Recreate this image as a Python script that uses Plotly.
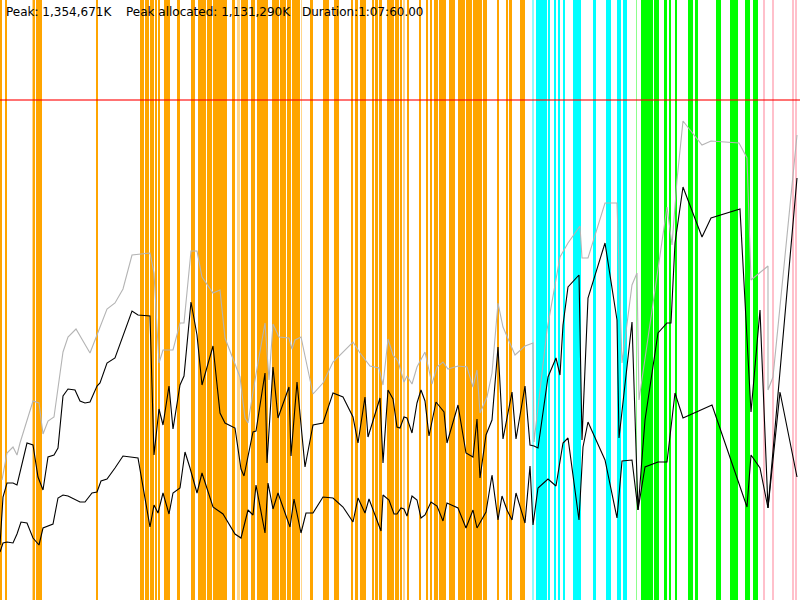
import plotly.graph_objects as go

# ---- data (time index 0..800, memory level; axis reversed) ----
gray_x = [2,7,13,17,20,33,39,43,48,54,63,68,76,90,107,115,123,132,150,154,159,163,173,180,184,191,197,202,213,220,225,240,245,248,255,265,269,273,279,289,292,295,301,313,323,333,353,360,370,379,383,388,393,398,404,407,412,417,425,432,437,443,448,458,467,473,477,480,487,492,498,503,515,525,533,534,547,560,568,580,582,588,605,617,622,632,637,639,667,672,677,683,702,711,739,747,751,768,768,773,797]
gray_y = [480,453,447,455,443,401,403,434,421,417,352,337,329,353,309,303,289,255,253,273,363,350,350,323,323,251,251,277,293,290,338,377,418,423,380,323,380,324,337,338,349,340,337,394,383,362,342,353,366,368,385,339,355,361,382,376,384,367,352,384,367,362,369,366,367,387,370,413,397,373,303,327,355,346,343,442,330,257,243,226,258,258,203,203,363,285,273,400,207,245,180,121,145,141,143,158,280,266,390,377,135]

used_x = [0,3,7,13,17,21,27,33,38,43,48,54,58,63,68,75,80,85,90,97,100,107,115,132,138,150,154,159,163,169,173,180,184,191,197,202,213,220,225,235,241,244,253,256,265,267,273,278,289,291,297,305,313,323,333,343,353,358,365,368,380,383,388,393,397,400,404,407,412,417,421,425,429,436,444,447,458,466,473,477,480,486,492,498,503,512,516,525,530,534,538,548,556,560,563,568,579,582,588,605,617,619,632,638,645,658,667,671,675,683,702,711,740,751,760,768,797]
used_y = [545,497,483,483,485,468,443,445,477,490,457,455,448,396,389,390,401,403,402,386,383,363,358,311,315,316,455,409,425,386,429,385,376,302,335,385,346,413,423,428,469,476,432,431,373,463,367,418,387,456,382,467,425,423,393,397,417,443,397,437,398,463,390,399,427,428,417,418,433,403,390,401,436,402,412,443,405,453,457,419,478,435,420,347,439,392,439,386,445,446,448,377,358,375,325,287,275,440,298,243,320,438,322,510,420,333,323,323,243,187,237,218,209,412,310,508,178]

low_x = [0,3,7,13,17,21,27,33,39,43,53,58,63,68,80,85,92,97,101,107,115,123,138,150,154,158,163,169,173,180,185,190,197,202,213,223,235,241,248,253,256,265,268,273,278,290,294,301,306,313,323,333,343,353,358,365,369,381,383,389,394,397,401,404,407,412,417,421,425,431,437,443,447,458,466,473,477,486,492,498,502,507,512,516,525,530,533,538,548,556,563,568,579,583,588,605,617,622,632,638,645,658,667,675,683,712,747,751,760,768,780,797]
low_y = [552,543,542,543,534,522,523,538,545,528,524,498,495,496,502,502,493,492,481,479,468,456,458,527,505,513,493,514,493,488,452,468,493,473,507,514,534,538,510,515,485,533,483,509,493,527,499,533,513,513,497,498,507,522,498,513,499,531,495,500,514,514,508,509,516,496,500,518,515,502,506,521,503,508,528,510,528,512,475,520,496,510,520,493,523,466,525,488,479,486,443,438,520,447,422,460,518,461,460,510,467,462,462,393,418,405,507,455,468,508,392,477]

peak_level = 100

orange_bands = [(0,1.7),(5,6.7),(33,35),(36,42),(96,97.5),(140,144),(145,149),(150,154),(155,157),(158,159.5),(164,170),(177,180),(191,195),(198,206),(207,212),(213,227),(232,235),(241,248),(251,255),(257,268),(272,279),(279.7,286),(286.7,291),(292,300),(310,313),(323,329),(334,339),(351,353),(355,358),(360,366),(372,374),(375,378),(379,382),(387,394),(395,399),(400,402),(407,409),(419,421),(426,428),(430,432),(434,438),(439,446),(449,455),(458,465),(466,472),(473,482),(483,487),(497,499),(506,508),(509,512),(520,525)]
orange_light = [(32,33),(237,240),(301,302),(403,405)]
cyan_bands = [(536,547),(548,550),(554,556),(558,560),(563,565),(573,580.5),(593,596),(606,611),(617,621),(623,627)]
cyan_light = [(532,533.5)]
green_bands = [(641,643),(643,653),(654,657),(657,659),(664,667),(669,671),(675,677),(688,693),(695,698),(716,721),(730,733),(733,738),(745,750),(753,758)]
green_light = [(636,637)]
pink_bands = [(763,765),(772,774),(792,794),(795,797)]

labels = ["Peak: 1,354,671K", "Peak allocated: 1,131,290K", "Duration:1:07:60.00"]
label_x = [4, 124, 300]

fig = go.Figure()

def add_bands(bands, color, opacity):
    if not bands:
        return
    fig.add_trace(go.Bar(
        x=[(a + b) / 2 for a, b in bands],
        y=[600] * len(bands),
        width=[b - a for a, b in bands],
        base=0,
        marker=dict(color=color, line=dict(width=0)),
        opacity=opacity,
        hoverinfo="skip",
    ))

add_bands(orange_bands, "#FFA500", 1.0)
add_bands(orange_light, "#FFA500", 0.45)
add_bands(cyan_bands, "#00FFFF", 1.0)
add_bands(cyan_light, "#00FFFF", 0.45)
add_bands(green_bands, "#00FF00", 1.0)
add_bands(green_light, "#00FF00", 0.45)
add_bands(pink_bands, "#FFC0CB", 1.0)

fig.add_trace(go.Scatter(x=gray_x, y=gray_y, mode="lines",
                         line=dict(color="#B4B4B4", width=1.1)))
fig.add_trace(go.Scatter(x=used_x, y=used_y, mode="lines",
                         line=dict(color="#000000", width=1.1)))
fig.add_trace(go.Scatter(x=low_x, y=low_y, mode="lines",
                         line=dict(color="#000000", width=1.1)))

fig.add_shape(type="line", x0=0, x1=800, y0=peak_level, y1=peak_level,
              xref="x", yref="y", line=dict(color="rgba(255,0,0,0.55)", width=2))

for t, lx in zip(labels, label_x):
    fig.add_annotation(x=lx, y=12, text=t, xref="x", yref="y",
                       xanchor="left", yanchor="middle", showarrow=False,
                       font=dict(family="DejaVu Sans, sans-serif", size=12, color="#000000"))

fig.update_layout(
    width=800, height=600,
    margin=dict(l=0, r=0, t=0, b=0),
    paper_bgcolor="white", plot_bgcolor="white",
    showlegend=False, barmode="overlay", bargap=0,
    xaxis=dict(range=[0, 800], visible=False, fixedrange=True),
    yaxis=dict(range=[600, 0], visible=False, fixedrange=True),
)

fig.write_html("out.html", config={"displayModeBar": False},
               post_script="document.body.style.margin='0';document.body.style.overflow='hidden';")
